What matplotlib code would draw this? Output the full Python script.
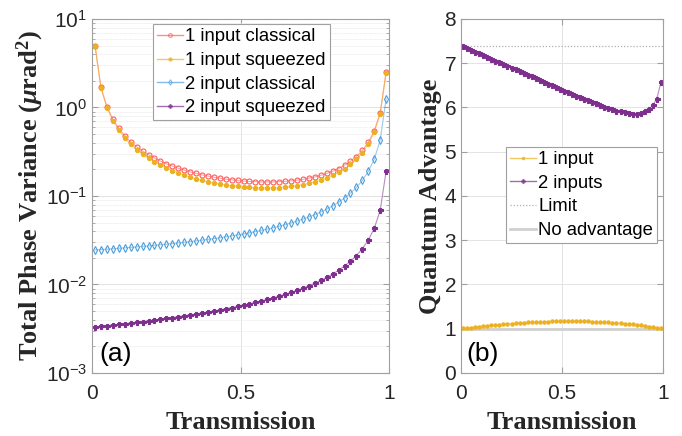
import numpy as np
import matplotlib
matplotlib.use("Agg")
import matplotlib.pyplot as plt
from matplotlib.lines import Line2D

plt.rcParams['font.family'] = ['Liberation Sans', 'DejaVu Sans']
plt.rcParams['mathtext.fontset'] = 'custom'
plt.rcParams['mathtext.rm'] = 'Liberation Serif:bold'
plt.rcParams['mathtext.it'] = 'Liberation Serif:italic:bold'
plt.rcParams['mathtext.bf'] = 'Liberation Serif:bold'

# transmission grid (0.01 ... 0.99, step 0.02)
T = np.linspace(0.01, 0.99, 50)

var_1_classical = [4.995, 1.682, 1.020, 0.736, 0.579, 0.479, 0.410, 0.360, 0.322, 0.292,
                   0.268, 0.248, 0.231, 0.218, 0.206, 0.196, 0.187, 0.180, 0.173, 0.168,
                   0.163, 0.159, 0.155, 0.152, 0.150, 0.147, 0.146, 0.145, 0.144, 0.144,
                   0.144, 0.145, 0.146, 0.148, 0.151, 0.154, 0.159, 0.164, 0.171, 0.180,
                   0.190, 0.204, 0.222, 0.246, 0.279, 0.327, 0.403, 0.542, 0.868, 2.50]
var_1_squeezed = [4.965, 1.654, 0.992, 0.708, 0.552, 0.452, 0.384, 0.334, 0.296, 0.267,
                  0.243, 0.223, 0.207, 0.194, 0.182, 0.172, 0.164, 0.157, 0.150, 0.145,
                  0.141, 0.137, 0.133, 0.130, 0.128, 0.126, 0.125, 0.124, 0.123, 0.123,
                  0.123, 0.124, 0.126, 0.128, 0.131, 0.134, 0.139, 0.144, 0.151, 0.160,
                  0.171, 0.185, 0.203, 0.227, 0.260, 0.308, 0.384, 0.523, 0.848, 2.48]
var_2_classical = [0.02453, 0.02478, 0.02505, 0.02533, 0.02563, 0.02593, 0.02625, 0.02659, 0.02694, 0.02731,
                   0.02770, 0.02810, 0.02853, 0.02899, 0.02946, 0.02997, 0.03051, 0.03108, 0.03168, 0.03233,
                   0.03302, 0.03375, 0.03455, 0.03540, 0.03631, 0.03731, 0.03838, 0.03956, 0.04084, 0.04224,
                   0.04379, 0.04551, 0.04743, 0.04958, 0.05200, 0.05476, 0.05793, 0.06160, 0.06591, 0.07105,
                   0.07726, 0.08494, 0.09467, 0.1074, 0.1247, 0.1498, 0.1891, 0.260, 0.4253, 1.252]
var_2_squeezed = [0.003324, 0.003376, 0.003432, 0.003489, 0.003550, 0.003611, 0.003676, 0.003745, 0.003816, 0.003890,
                  0.003968, 0.004049, 0.004135, 0.004226, 0.004320, 0.004420, 0.004527, 0.004639, 0.004757, 0.004884,
                  0.005018, 0.005161, 0.005315, 0.005480, 0.005656, 0.005848, 0.006044, 0.006269, 0.006514, 0.006769,
                  0.007063, 0.007388, 0.007737, 0.008141, 0.008581, 0.009096, 0.009671, 0.01034, 0.01111, 0.01202,
                  0.01312, 0.01447, 0.01616, 0.01833, 0.02121, 0.02535, 0.03173, 0.04298, 0.06860, 0.1906]

adv_1 = [1.006, 1.017, 1.028, 1.039, 1.049, 1.059, 1.068, 1.078, 1.086, 1.095,
         1.103, 1.111, 1.118, 1.125, 1.131, 1.137, 1.143, 1.148, 1.152, 1.156,
         1.160, 1.163, 1.166, 1.168, 1.169, 1.170, 1.171, 1.171, 1.170, 1.169,
         1.167, 1.165, 1.162, 1.158, 1.154, 1.149, 1.143, 1.137, 1.130, 1.123,
         1.114, 1.105, 1.096, 1.085, 1.074, 1.063, 1.050, 1.037, 1.023, 1.008]
adv_2 = [7.38, 7.34, 7.30, 7.26, 7.22, 7.18, 7.14, 7.10, 7.06, 7.02,
         6.98, 6.94, 6.90, 6.86, 6.82, 6.78, 6.74, 6.70, 6.66, 6.62,
         6.58, 6.54, 6.50, 6.46, 6.42, 6.38, 6.35, 6.31, 6.27, 6.24,
         6.20, 6.16, 6.13, 6.09, 6.06, 6.02, 5.99, 5.96, 5.93, 5.91,
         5.89, 5.87, 5.86, 5.86, 5.88, 5.91, 5.96, 6.05, 6.20, 6.57]
limit = 7.389
no_adv = 1.0

c_red = '#ff5a5a'
c_orange = '#edb120'
c_blue = '#4d9fdc'
c_purple = '#7e2f8e'
c_tick = '#262626'
c_spine = '#a0a0a0'


def style_axes(ax):
    for s in ax.spines.values():
        s.set_color(c_spine)
        s.set_linewidth(0.8)
    ax.tick_params(which='both', direction='in', top=True, right=True,
                   colors=c_spine, labelcolor=c_tick, labelsize=15)
    ax.tick_params(axis='x', pad=8)
    ax.tick_params(which='major', length=4)
    ax.tick_params(which='minor', length=2)
    ax.set_axisbelow(True)


def series(ax, x, y, color, marker, ms, filled, label):
    ax.plot(x, y, '-', color=color, lw=0.8, alpha=0.55)
    ax.plot(x, y, linestyle='none', marker=marker, ms=ms, mew=0.8,
            mec=color, mfc=color if filled else 'none')
    return Line2D([], [], color=color, lw=1.0, alpha=0.7, marker=marker, ms=ms * 0.75,
                  mew=0.8, mec=color, mfc=color if filled else 'none', label=label)


fig = plt.figure(figsize=(6.82, 4.36), dpi=100)
ax1 = fig.add_axes([0.135, 0.1445, 0.4355, 0.812])
ax2 = fig.add_axes([0.676, 0.1445, 0.296, 0.812])

leg_kw = dict(fontsize=13.3, handlelength=1.45, handletextpad=0.1, labelspacing=0.36,
              borderpad=0.22, borderaxespad=0, fancybox=False, framealpha=1,
              edgecolor=c_spine, numpoints=1)

# (a) variances
h = []
h.append(series(ax1, T, var_1_classical, c_red, 'o', 3.6, False, '1 input classical'))
h.append(series(ax1, T, var_1_squeezed, c_orange, 'o', 3.0, True, '1 input squeezed'))
h.append(series(ax1, T, var_2_classical, c_blue, 'd', 3.7, False, '2 input classical'))
h.append(series(ax1, T, var_2_squeezed, c_purple, 'P', 3.6, True, '2 input squeezed'))
ax1.set_yscale('log')
ax1.set_ylim(1e-3, 1e1)
ax1.set_xlim(0, 1)
ax1.set_xticks([0, 0.5, 1])
ax1.set_xticklabels(['0', '0.5', '1'])
ax1.set_yticks([1e-3, 1e-2, 1e-1, 1e0, 1e1])
ax1.grid(True, which='major', color='#e3e3e3', lw=0.7)
ax1.grid(True, which='minor', axis='y', color='#ececec', lw=0.6, ls=(0, (1, 0.5)))
style_axes(ax1)
ax1.set_xlabel('Transmission', fontfamily='Liberation Serif', fontweight='bold',
               fontsize=19, color=c_tick, labelpad=6)
ax1.set_ylabel(r'Total Phase Variance ($\mu$rad$^{\mathbf{2}}$)', fontfamily='Liberation Serif',
               fontweight='bold', fontsize=19, color=c_tick, labelpad=0)
ax1.text(0.025, 0.055, '(a)', transform=ax1.transAxes, fontsize=19, color='black',
         va='center', ha='left')
leg1 = ax1.legend(handles=h, loc='upper center', bbox_to_anchor=(0.502, 0.985), **leg_kw)
leg1.get_frame().set_linewidth(0.8)

# (b) quantum advantage
ax2.axhline(no_adv, color='#d0d0d0', lw=2.0, zorder=1)
ax2.axhline(limit, color='#b0b0b0', lw=0.9, ls=(0, (1, 1.5)), zorder=1)
h2 = []
h2.append(series(ax2, T, adv_1, c_orange, 'o', 2.4, True, '1 input'))
h2.append(series(ax2, T, adv_2, c_purple, 'P', 3.6, True, '2 inputs'))
h2.append(Line2D([], [], color='#b0b0b0', lw=0.9, ls=(0, (1, 1.5)), label='Limit'))
h2.append(Line2D([], [], color='#d0d0d0', lw=2.0, label='No advantage'))
ax2.set_xlim(0, 1)
ax2.set_ylim(0, 8)
ax2.set_xticks([0, 0.5, 1])
ax2.set_xticklabels(['0', '0.5', '1'])
ax2.set_yticks(range(0, 9))
ax2.grid(True, color='#e3e3e3', lw=0.7)
style_axes(ax2)
ax2.set_xlabel('Transmission', fontfamily='Liberation Serif', fontweight='bold',
               fontsize=19, color=c_tick, labelpad=6)
ax2.set_ylabel('Quantum Advantage', fontfamily='Liberation Serif', fontweight='bold',
               fontsize=19, color=c_tick, labelpad=2)
ax2.text(0.025, 0.055, '(b)', transform=ax2.transAxes, fontsize=19, color='black',
         va='center', ha='left')
leg2 = ax2.legend(handles=h2, loc='upper right', bbox_to_anchor=(0.972, 0.638), **leg_kw)
leg2.get_frame().set_linewidth(0.8)

fig.savefig('out.png', dpi=100)
